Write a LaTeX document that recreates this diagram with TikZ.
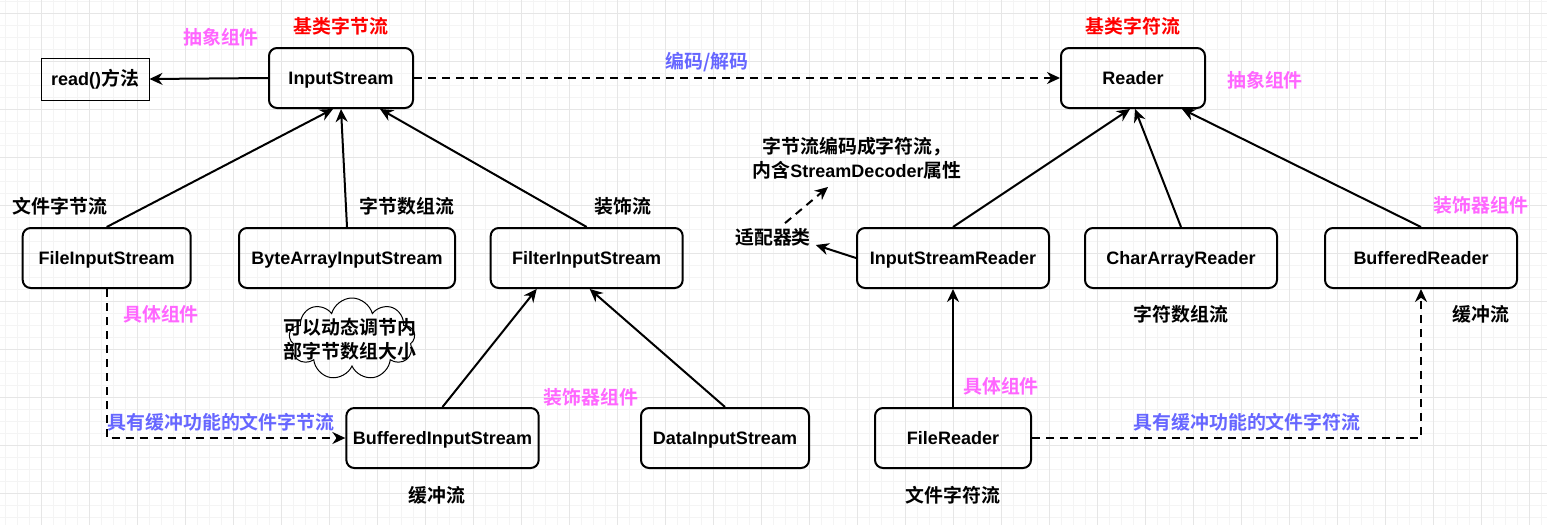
\documentclass[tikz,border=0pt]{standalone}
\usepackage{fontspec}
\setmainfont{Liberation Sans}
\newfontfamily\cjk[Scale=1.05,BoldFont={Noto Sans CJK SC Bold}]{Noto Sans CJK SC}
\usetikzlibrary{arrows.meta,shapes.symbols}

\definecolor{zujian}{HTML}{FF66FF}
\definecolor{shuoming}{HTML}{6666FF}
\definecolor{gridmaj}{HTML}{E6E6E6}
\definecolor{gridmin}{HTML}{F4F4F4}

\tikzset{
  klass/.style={draw, line width=1pt, rounded corners=4pt, minimum height=30pt,
    text height=6.2pt, text depth=0pt, font=\bfseries\fontsize{9}{11}\selectfont},
  tag/.style={inner sep=0pt, align=center, font=\bfseries\fontsize{9}{12}\selectfont\cjk},
  role/.style={tag, text=zujian},
  note/.style={tag, text=shuoming},
  jilei/.style={tag, text=red},
  dashline/.style={dashed, dash pattern=on 4pt off 3pt},
}

\begin{document}
\begin{tikzpicture}[x=0.5pt, y=-0.5pt, >={Stealth[length=6.5pt,width=6pt]}, line width=1pt]
  \useasboundingbox [fill=white] (0,0) rectangle (1547,525);

  % background grid
  \foreach \i in {0,...,128} \draw [gridmin, line width=0.5pt] ({5.3+12*\i},0) -- ({5.3+12*\i},525);
  \foreach \i in {0,...,43}  \draw [gridmin, line width=0.5pt] (0,{1.3+12*\i}) -- (1547,{1.3+12*\i});
  \foreach \i in {0,...,31}  \draw [gridmaj, line width=0.5pt] ({41.3+48*\i},0) -- ({41.3+48*\i},525);
  \foreach \i in {0,...,10}  \draw [gridmaj, line width=0.5pt] (0,{13.3+48*\i}) -- (1547,{13.3+48*\i});

  % byte streams
  \node [draw, line width=0.5pt, minimum width=54pt, minimum height=21pt,
         font=\bfseries\fontsize{9}{11}\selectfont] (readm) at (95,79) {read(){\cjk 方法}};
  \node [klass, minimum width=72pt]  (is)    at (341,78)    {InputStream};
  \node [klass, minimum width=84pt]  (fis)   at (106.7,258) {FileInputStream};
  \node [klass, minimum width=108pt] (bais)  at (347,258)   {ByteArrayInputStream};
  \node [klass, minimum width=96pt]  (fltis) at (586.7,258) {FilterInputStream};
  \node [klass, minimum width=96pt]  (bis)   at (442.5,438) {BufferedInputStream};
  \node [klass, minimum width=84pt]  (dis)   at (725,438)   {DataInputStream};

  % char streams
  \node [klass, minimum width=72pt] (rd)  at (1133,78)  {Reader};
  \node [klass, minimum width=96pt] (isr) at (953,258)  {InputStreamReader};
  \node [klass, minimum width=96pt] (car) at (1181,258) {CharArrayReader};
  \node [klass, minimum width=96pt] (br)  at (1421,258) {BufferedReader};
  \node [klass, minimum width=78pt] (frd) at (953,438)  {FileReader};

  % cloud note
  \node [cloud, draw, line width=0.5pt, cloud puffs=9, aspect=1.5,
         minimum width=63pt, minimum height=41pt] (yun) at (352,339) {};
  \node [tag] (yuntxt) at (350,339) {可以动态调节内\\部字节数组大小};

  % labels
  \node [role]  (abs1)  at (221,37)   {抽象组件};
  \node [jilei] (jz)    at (341,26)   {基类字节流};
  \node [note]  (bianma) at (707,62)  {编码/解码};
  \node [jilei] (jf)    at (1133,26)  {基类字符流};
  \node [role]  (abs2)  at (1265,80)  {抽象组件};
  \node [tag]   (wjz)   at (60,206)   {文件字节流};
  \node [tag]   (zjsz)  at (407,206)  {字节数组流};
  \node [tag]   (zsl)   at (623,206)  {装饰流};
  \node [tag]   (dec)   at (857,158)  {字节流编码成字符流，\\内含{\fontspec{Liberation Sans}StreamDecoder}属性};
  \node [tag]   (adpt)  at (773,237)  {适配器类};
  \node [role]  (zsq2)  at (1481,205) {装饰器组件};
  \node [role]  (jt1)   at (161,314)  {具体组件};
  \node [tag]   (zfsz)  at (1181,314) {字符数组流};
  \node [tag]   (hcl2)  at (1481,314) {缓冲流};
  \node [role]  (jt2)   at (1001,386) {具体组件};
  \node [role]  (zsq1)  at (591,397)  {装饰器组件};
  \node [note]  (hcz)   at (221,422)  {具有缓冲功能的文件字节流};
  \node [note]  (hcf)   at (1247,422) {具有缓冲功能的文件字符流};
  \node [tag]   (hcl1)  at (437,495)  {缓冲流};
  \node [tag]   (wjf)   at (953,495)  {文件字符流};

  % connectors
  \draw [->] (is.west) -- (readm.east);
  \draw [->, dashline] (is.east) -- (rd.west);
  \draw [->] (fis.north)   -- ([shift={(-8,0)}]is.south);
  \draw [->] (bais.north)  -- (is.south);
  \draw [->] (fltis.north) -- ([shift={(39,0)}]is.south);
  \draw [->] (bis.north) -- ([shift={(-50,0)}]fltis.south);
  \draw [->] (dis.north) -- ([shift={(3,0)}]fltis.south);
  \draw [->, dashline] (fis.south) |- (bis.west);

  \draw [->] (isr.north) -- ([shift={(-3,0)}]rd.south);
  \draw [->] (car.north) -- ([shift={(2,0)}]rd.south);
  \draw [->] (br.north)  -- ([shift={(49,0)}]rd.south);
  \draw [->] (frd.north) -- (isr.south);
  \draw [->, dashline] (frd.east) -| (br.south);
  \draw [->] (isr.west) -- ([shift={(4,8)}]adpt.east);
  \draw [->, dashline] ([shift={(12,-4)}]adpt.north) -- ([shift={(-29,7)}]dec.south);
\end{tikzpicture}
\end{document}
